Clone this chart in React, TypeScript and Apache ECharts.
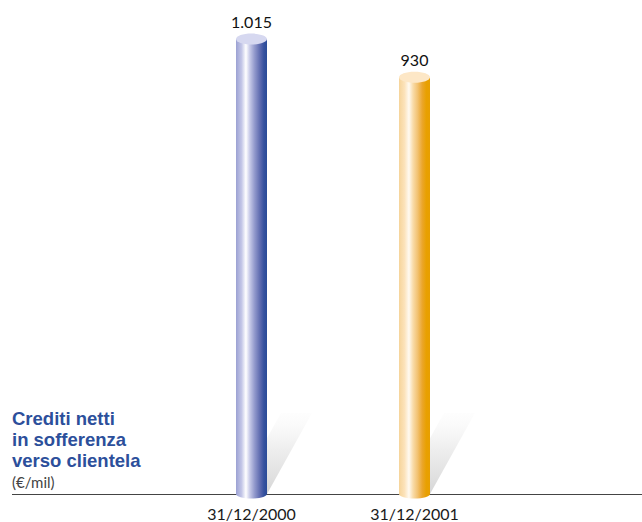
import React, { useEffect, useRef } from "react";
import * as echarts from "echarts";

const categories = ["31/12/2000", "31/12/2001"];
const values = [1015, 930];
const titleLines = ["Crediti netti", "in sofferenza", "verso clientela"];
const unitLabel = "(€/mil)";

const BAR_W = 31;
const TOP_RY = 5.5;
const BOT_RY = 4.5;
const SHADOW_DX = 45;
const SHADOW_DY = -81;

const barStops = [
  [
    { offset: 0, color: "#9ba1d3" },
    { offset: 0.18, color: "#c3c6e7" },
    { offset: 0.32, color: "#ffffff" },
    { offset: 0.45, color: "#c5c8e7" },
    { offset: 0.6, color: "#9299cc" },
    { offset: 0.78, color: "#5d6aaf" },
    { offset: 0.9, color: "#36529f" },
    { offset: 1, color: "#2a4b98" },
  ],
  [
    { offset: 0, color: "#f6d49a" },
    { offset: 0.18, color: "#fce3bb" },
    { offset: 0.32, color: "#fffaf2" },
    { offset: 0.45, color: "#f9dcaa" },
    { offset: 0.6, color: "#f2c272" },
    { offset: 0.75, color: "#eba62c" },
    { offset: 0.88, color: "#e8a000" },
    { offset: 1, color: "#e89f00" },
  ],
];
const topColors = ["#d6d8f0", "#fde7c6"];

function fmt(v: number): string {
  const s = String(Math.round(v));
  return s.replace(/\B(?=(\d{3})+(?!\d))/g, ".");
}

export default function App() {
  const ref = useRef<HTMLDivElement>(null);
  useEffect(() => {
    document.body.style.margin = "0";
    if (!ref.current) return;
    const chart = echarts.init(ref.current, undefined, { renderer: "svg" });
    const titleTexts = titleLines.map((line, i) => ({
      type: "text",
      z: 5,
      left: 12,
      top: 409 + i * 21,
      style: {
        text: line,
        fontFamily: "Liberation Sans",
        fontWeight: "bold",
        fontSize: 18.5,
        fill: "#2c4f9b",
      },
    }));
    const option: any = {
      animation: false,
      backgroundColor: "#ffffff",
      grid: { left: 170, width: 326, top: 1, bottom: 28 },
      xAxis: {
        type: "category",
        data: categories,
        axisLine: { show: false },
        axisTick: { show: false },
        axisLabel: {
          margin: 11,
          fontFamily: "Lato",
          fontSize: 16,
          color: "#1a1a1a",
        },
      },
      yAxis: {
        type: "value",
        min: 0,
        max: 1100,
        show: false,
        splitLine: { show: false },
      },
      graphic: [
        {
          type: "line",
          z: 0,
          shape: { x1: 12, y1: 494.5, x2: 642, y2: 494.5 },
          style: { stroke: "#444444", lineWidth: 1 },
        },
        ...titleTexts,
        {
          type: "text",
          z: 5,
          left: 12,
          top: 474,
          style: {
            text: unitLabel,
            fontFamily: "Lato",
            fontSize: 15,
            fill: "#444444",
          },
        },
      ],
      series: [
        {
          type: "custom",
          z: 2,
          data: values.map((v, i) => [i, v]),
          encode: { x: 0, y: 1 },
          renderItem: (params: any, api: any) => {
            const idx = api.value(0);
            const v = api.value(1);
            const top = api.coord([idx, v]);
            const base = api.coord([idx, 0]);
            const cx = top[0];
            const x0 = cx - BAR_W / 2;
            const x1 = cx + BAR_W / 2;
            const grad = new echarts.graphic.LinearGradient(0, 0, 1, 0, barStops[idx % barStops.length]);
            const shadowGrad = new echarts.graphic.LinearGradient(0, 1, 0, 0, [
              { offset: 0, color: "rgba(200,200,200,0.75)" },
              { offset: 0.55, color: "rgba(220,220,220,0.5)" },
              { offset: 1, color: "rgba(240,240,240,0.1)" },
            ]);
            return {
              type: "group",
              children: [
                {
                  type: "polygon",
                  shape: {
                    points: [
                      [x0, base[1]],
                      [x1, base[1]],
                      [x1 + SHADOW_DX, base[1] + SHADOW_DY],
                      [x0 + SHADOW_DX, base[1] + SHADOW_DY],
                    ],
                  },
                  style: { fill: shadowGrad },
                },
                {
                  type: "ellipse",
                  shape: { cx, cy: base[1], rx: BAR_W / 2, ry: BOT_RY },
                  style: { fill: grad },
                },
                {
                  type: "rect",
                  shape: { x: x0, y: top[1], width: BAR_W, height: base[1] - top[1] },
                  style: { fill: grad },
                },
                {
                  type: "ellipse",
                  shape: { cx, cy: top[1], rx: BAR_W / 2, ry: TOP_RY },
                  style: { fill: topColors[idx % topColors.length] },
                },
                {
                  type: "text",
                  x: cx,
                  y: top[1] - 18,
                  style: {
                    text: fmt(v),
                    align: "center",
                    verticalAlign: "middle",
                    fontFamily: "Lato",
                    fontSize: 16,
                    fill: "#111111",
                  },
                },
              ],
            };
          },
        },
      ],
    };
    chart.setOption(option);
    return () => chart.dispose();
  }, []);
  return <div ref={ref} style={{ width: 642, height: 522 }} />;
}
